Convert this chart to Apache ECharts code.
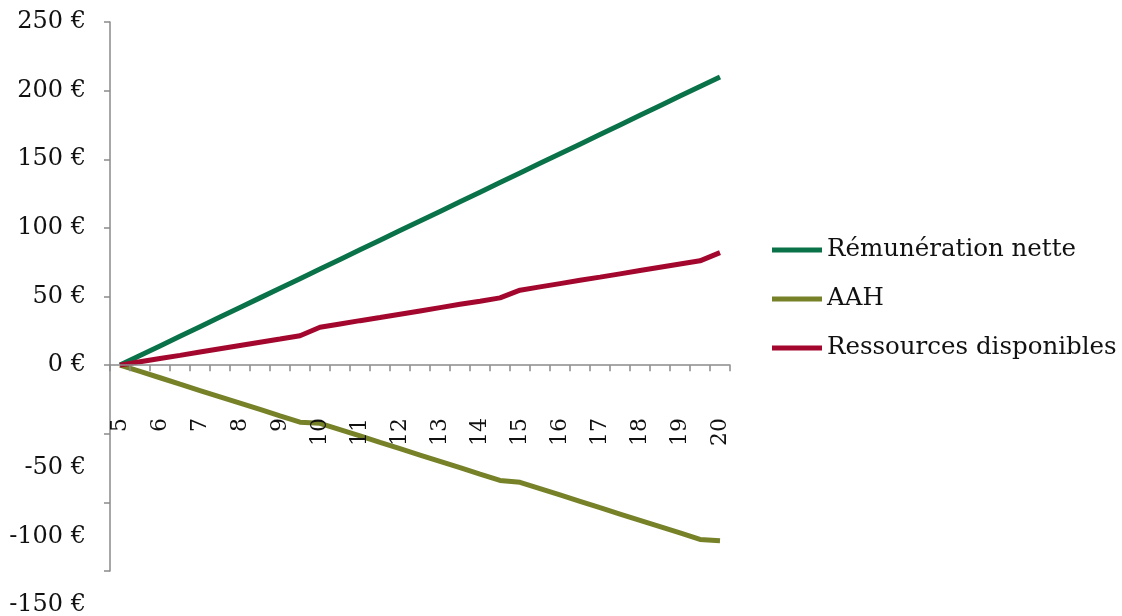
<!DOCTYPE html>
<html>
<head>
<meta charset="utf-8">
<script src="https://cdn.jsdelivr.net/npm/echarts@6/dist/echarts.min.js"></script>
<style>
  html, body { margin: 0; padding: 0; background: #fff; }
  #chart { width: 1122px; height: 616px; }
</style>
</head>
<body>
<div id="chart"></div>
<script>
// Heures travaillées (pas d'une demi-heure)
const hours = ['5','5.5','6','6.5','7','7.5','8','8.5','9','9.5','10','10.5','11','11.5','12','12.5',
  '13','13.5','14','14.5','15','15.5','16','16.5','17','17.5','18','18.5','19','19.5','20'];

const remunerationNette = [0, 7, 14, 21, 28, 35, 42, 49, 56, 63, 70, 77, 84, 91, 98, 105,
  112, 119, 126, 133, 140, 147, 154, 161, 168, 175, 182, 189, 196, 203, 210];

const aah = [0, -4.6, -9.2, -13.9, -18.5, -23.1, -27.7, -32.3, -37.0, -41.6, -42.4, -47.0, -51.6, -56.3, -60.9, -65.5,
  -70.1, -74.7, -79.4, -84.0, -85.4, -90.0, -94.6, -99.2, -103.9, -108.5, -113.1, -117.7, -122.3, -127.0, -128.0];

const ressourcesDisponibles = [0, 2.4, 4.8, 7.1, 9.5, 11.9, 14.3, 16.7, 19.0, 21.4, 27.6, 30.0, 32.4, 34.7, 37.1, 39.5,
  41.9, 44.3, 46.6, 49.0, 54.6, 57.0, 59.4, 61.8, 64.1, 66.5, 68.9, 71.3, 73.7, 76.0, 82.0];

const seriesNames = ['Rémunération nette', 'AAH', 'Ressources disponibles'];
const colors = ['#0a7249', '#768128', '#a3072e'];

const font = 'DejaVu Serif';
const axisGray = '#8a8a8a';

const chart = echarts.init(document.getElementById('chart'), null, { renderer: 'canvas' });

function lineSeries(name, data, color) {
  return {
    name: name,
    type: 'line',
    data: data,
    symbol: 'none',
    smooth: false,
    lineStyle: { color: color, width: 5 },
    itemStyle: { color: color },
    emphasis: { disabled: true },
    z: 2
  };
}

chart.setOption({
  animation: false,
  backgroundColor: '#ffffff',
  color: colors,
  grid: { left: 110, right: 392, top: 22, bottom: 45, containLabel: false, outerBoundsMode: 'none' },
  xAxis: {
    type: 'category',
    data: hours,
    boundaryGap: true,
    z: 5,
    axisLine: { show: true, onZero: true, lineStyle: { color: axisGray, width: 1.5 } },
    axisTick: { show: true, interval: 0, alignWithLabel: false, length: 6, inside: false,
      lineStyle: { color: axisGray, width: 1.5 } },
    axisLabel: {
      interval: 1,
      rotate: 90,
      // labels sit just under the zero line, measured from the grid's lower edge
      margin: -153,
      padding: [8, 0, 0, 0],
      color: '#111',
      fontFamily: font,
      fontSize: 22
    },
    splitLine: { show: false }
  },
  yAxis: {
    type: 'value',
    min: -150,
    max: 250,
    interval: 50,
    axisLine: { show: true, lineStyle: { color: axisGray, width: 1.5 } },
    axisTick: { show: true, length: 6, lineStyle: { color: axisGray, width: 1.5 } },
    splitLine: { show: false },
    axisLabel: {
      margin: 24,
      color: '#111',
      fontFamily: font,
      fontSize: 24,
      formatter: function (v) {
        return v < 0 ? '{neg|' + v + ' €}' : v + ' €';
      },
      rich: {
        neg: { fontFamily: font, fontSize: 24, color: '#111', padding: [68, 0, 0, 0] }
      }
    }
  },
  legend: {
    orient: 'vertical',
    left: 772,
    top: 235,
    padding: 0,
    itemWidth: 50,
    itemHeight: 5,
    itemGap: 19,
    icon: 'rect',
    data: seriesNames,
    textStyle: { fontFamily: font, fontSize: 24.5, color: '#111', lineHeight: 30 },
    selectedMode: false
  },
  series: [
    lineSeries(seriesNames[0], remunerationNette, colors[0]),
    lineSeries(seriesNames[1], aah, colors[1]),
    lineSeries(seriesNames[2], ressourcesDisponibles, colors[2])
  ]
});
</script>
</body>
</html>
